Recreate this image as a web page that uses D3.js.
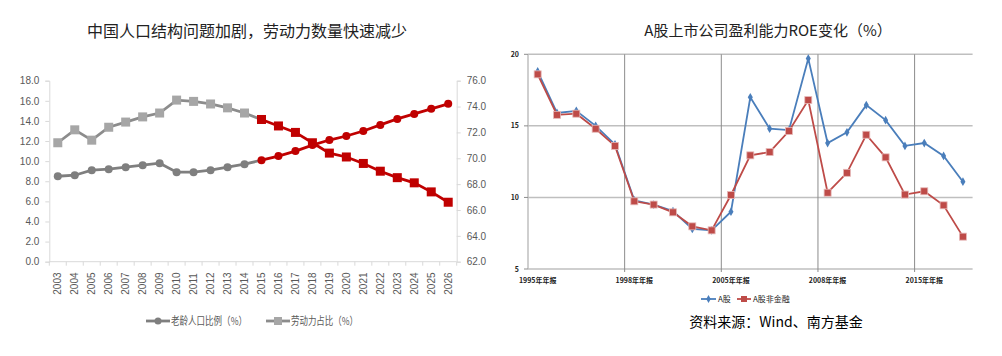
<!DOCTYPE html>
<html><head><meta charset="utf-8">
<script src="https://cdn.jsdelivr.net/npm/d3@7"></script>
<style>
html,body{margin:0;padding:0;background:#fff;}
svg{display:block;font-family:"Noto Sans CJK SC","Noto Sans",sans-serif;}
</style></head>
<body>
<svg id="c" width="1002" height="356"></svg>
<script>
// ---------- Left chart data ----------
const years = ["2003","2004","2005","2006","2007","2008","2009","2010","2011","2012","2013","2014","2015","2016","2017","2018","2019","2020","2021","2022","2023","2024","2025","2026"];
const elderlyRatio = [8.5,8.6,9.1,9.2,9.4,9.6,9.8,8.9,8.9,9.1,9.4,9.7,10.1,10.5,11.0,11.6,12.1,12.5,13.0,13.6,14.2,14.7,15.2,15.7];
const laborRatio = [71.2,72.2,71.4,72.4,72.8,73.2,73.5,74.5,74.4,74.2,73.9,73.5,73.0,72.5,72.0,71.2,70.4,70.1,69.6,69.0,68.5,68.1,67.4,66.6];
const forecastStart = "2015";
const leftTicks = [0,2,4,6,8,10,12,14,16,18];
const rightTicks = [62,64,66,68,70,72,74,76];
const leftLegend = ["老龄人口比例（%）","劳动力占比（%）"];
const leftTitle = "中国人口结构问题加剧，劳动力数量快速减少";

// ---------- Right chart data ----------
const roeAll = [18.8,15.9,16.05,15.0,13.7,9.8,9.5,9.05,7.8,7.7,9.0,17.0,14.8,14.7,19.7,13.8,14.55,16.45,15.4,13.6,13.8,12.9,11.1];
const roeNonFin = [18.6,15.77,15.85,14.8,13.6,9.73,9.5,8.96,7.98,7.7,10.17,12.94,13.17,14.64,16.8,10.33,11.72,14.38,12.8,10.2,10.43,9.45,7.26];
const roeTickLabels = ["1995年年报","1998年年报","2005年年报","2008年年报","2015年年报"];
const roeTickIndex = [0,5,10,15,20];
const roeYTicks = [5,10,15,20];
const roeLegend = ["A股","A股非金融"];
const rightTitle = "A股上市公司盈利能力ROE变化（%）";
const sourceText = "资料来源：Wind、南方基金";

const svg = d3.select("#c");

// ================= LEFT CHART =================
const L = svg.append("g");
const x1 = d3.scaleBand().domain(years).range([49.3, 456.7]);
const yL = d3.scaleLinear().domain([0,18]).range([261.7, 80.7]);
const yR = d3.scaleLinear().domain([62,76]).range([261.7, 80.7]);
const axisCol = "#d9d9d9", txtCol = "#595959";

L.append("text").attr("x", 247).attr("y", 37).attr("text-anchor","middle")
  .attr("font-size", 16).attr("fill","#222").text(leftTitle);

// left axis
const gl = L.append("g").attr("transform","translate(49.3,0)")
  .call(d3.axisLeft(yL).tickValues(leftTicks).tickFormat(d3.format(".1f")).tickSize(4).tickPadding(6));
gl.selectAll("path,line").attr("stroke", axisCol);
gl.selectAll("text").attr("fill", txtCol).attr("font-size", 10).attr("font-family","'Liberation Sans',Arial,sans-serif");
// right axis
const gr = L.append("g").attr("transform","translate(456.7,0)")
  .call(d3.axisRight(yR).tickValues(rightTicks).tickFormat(d3.format(".1f")).tickSize(4).tickPadding(6));
gr.selectAll("path,line").attr("stroke", axisCol);
gr.selectAll("text").attr("fill", txtCol).attr("font-size", 10).attr("font-family","'Liberation Sans',Arial,sans-serif");
// bottom axis
const gb = L.append("g").attr("transform","translate(0,261.7)");
gb.append("line").attr("x1",49.3).attr("x2",456.7).attr("stroke",axisCol);
gb.selectAll("line.t").data(years).join("line").attr("class","t")
  .attr("x1", d=>x1(d)).attr("x2", d=>x1(d)).attr("y1",0).attr("y2",4).attr("stroke",axisCol);
gb.append("line").attr("x1",456.7).attr("x2",456.7).attr("y1",0).attr("y2",4).attr("stroke",axisCol);
gb.selectAll("text").data(years).join("text")
  .attr("transform", d=>`translate(${x1(d)+x1.bandwidth()/2+3.5},${33}) rotate(-90)`)
  .attr("font-size",10).attr("fill",txtCol).attr("font-family","'Liberation Sans',Arial,sans-serif")
  .text(d=>d);

const fIdx = years.indexOf(forecastStart);
const cx = d => x1(d) + x1.bandwidth()/2;
function drawSeries(vals, ys, lineCol, markerCol, shape) {
  const pts = years.map((y,i)=>({y, v: vals[i], i}));
  const hist = pts.filter(p=>p.i<=fIdx);
  const fut = pts.filter(p=>p.i>=fIdx);
  const line = d3.line().x(p=>cx(p.y)).y(p=>ys(p.v));
  L.append("path").datum(hist).attr("d",line).attr("fill","none").attr("stroke",lineCol).attr("stroke-width",2.8);
  L.append("path").datum(fut).attr("d",line).attr("fill","none").attr("stroke","#c00000").attr("stroke-width",2.8);
  pts.forEach(p=>{
    const col = p.i>=fIdx ? "#c00000" : markerCol;
    if (shape==="circle") {
      L.append("circle").attr("cx",cx(p.y)).attr("cy",ys(p.v)).attr("r",4).attr("fill",col);
    } else {
      L.append("rect").attr("x",cx(p.y)-4.5).attr("y",ys(p.v)-4.5).attr("width",9).attr("height",9).attr("fill",col);
    }
  });
}
drawSeries(laborRatio, yR, "#8c8c8c", "#a6a6a6", "square");
drawSeries(elderlyRatio, yL, "#7f7f7f", "#7f7f7f", "circle");

// left legend
const lg = L.append("g").attr("font-size",11).attr("fill",txtCol);
lg.append("line").attr("x1",146).attr("x2",170).attr("y1",321).attr("y2",321).attr("stroke","#7f7f7f").attr("stroke-width",2.8);
lg.append("circle").attr("cx",158).attr("cy",321).attr("r",3.5).attr("fill","#7f7f7f");
lg.append("text").attr("x",171).attr("y",325).attr("fill",txtCol)
  .attr("textLength",76).attr("lengthAdjust","spacingAndGlyphs").text(leftLegend[0]);
lg.append("line").attr("x1",266).attr("x2",290).attr("y1",321).attr("y2",321).attr("stroke","#8c8c8c").attr("stroke-width",2.8);
lg.append("rect").attr("x",274).attr("y",317).attr("width",8).attr("height",8).attr("fill","#a6a6a6");
lg.append("text").attr("x",291).attr("y",325).attr("fill",txtCol)
  .attr("textLength",67).attr("lengthAdjust","spacingAndGlyphs").text(leftLegend[1]);

// ================= RIGHT CHART =================
const R = svg.append("g");
const idx = d3.range(roeAll.length);
const x2 = d3.scaleBand().domain(idx).range([528, 972.6]);
const y2 = d3.scaleLinear().domain([5,20]).range([269, 54.3]);
const c2 = i => x2(i) + x2.bandwidth()/2;

R.append("text").attr("x", 768).attr("y", 36).attr("text-anchor","middle")
  .attr("font-size", 15).attr("fill","#222").text(rightTitle);

// horizontal grid
R.selectAll("line.hg").data(roeYTicks).join("line").attr("class","hg")
  .attr("x1",528).attr("x2",972.6).attr("y1",d=>y2(d)).attr("y2",d=>y2(d))
  .attr("stroke","#bfbfbf").attr("stroke-width",1.5);
// vertical grid
R.selectAll("line.vg").data(roeTickIndex.slice(1)).join("line").attr("class","vg")
  .attr("x1",d=>x2(d)).attr("x2",d=>x2(d)).attr("y1",54.3).attr("y2",272)
  .attr("stroke","#8c8c8c").attr("stroke-width",1);
// left axis line
R.append("line").attr("x1",528).attr("x2",528).attr("y1",54.3).attr("y2",269).attr("stroke","#bfbfbf").attr("stroke-width",1.5);
R.selectAll("line.yt").data(roeYTicks).join("line").attr("class","yt")
  .attr("x1",524).attr("x2",528).attr("y1",d=>y2(d)).attr("y2",d=>y2(d)).attr("stroke","#8c8c8c");
R.selectAll("text.yl").data(roeYTicks).join("text").attr("class","yl")
  .attr("x",519).attr("y",d=>y2(d)+2.5).attr("text-anchor","end")
  .attr("font-size",7).attr("font-weight","bold").attr("fill","#222").text(d=>d);
R.selectAll("text.xl").data(roeTickIndex).join("text").attr("class","xl")
  .attr("x",d=>c2(d)).attr("y",283).attr("text-anchor","middle")
  .attr("font-size",7).attr("font-weight","bold").attr("fill","#222").text((d,i)=>roeTickLabels[i]);

const line2 = d3.line().x((v,i)=>c2(i)).y(v=>y2(v));
R.append("path").datum(roeAll).attr("d",line2).attr("fill","none").attr("stroke","#4a7ebb").attr("stroke-width",1.8);
R.selectAll("path.dm").data(roeAll).join("path").attr("class","dm")
  .attr("d", d3.symbol().type(d3.symbolDiamond).size(22))
  .attr("transform",(v,i)=>`translate(${c2(i)},${y2(v)})`).attr("fill","#4a7ebb");
R.append("path").datum(roeNonFin).attr("d",line2).attr("fill","none").attr("stroke","#be4b48").attr("stroke-width",1.8);
R.selectAll("rect.sq").data(roeNonFin).join("rect").attr("class","sq")
  .attr("x",(v,i)=>c2(i)-3.5).attr("y",v=>y2(v)-3.5).attr("width",7).attr("height",7)
  .attr("fill","#be4b48").attr("stroke","#e6b9b8").attr("stroke-width",0.8);

// right legend
const rg = R.append("g");
rg.append("line").attr("x1",701).attr("x2",716).attr("y1",299).attr("y2",299).attr("stroke","#4a7ebb").attr("stroke-width",1.8);
rg.append("path").attr("d",d3.symbol().type(d3.symbolDiamond).size(18)).attr("transform","translate(708.5,299)").attr("fill","#4a7ebb");
rg.append("text").attr("x",718).attr("y",302).attr("font-size",8).attr("fill","#222").text(roeLegend[0]);
rg.append("line").attr("x1",737).attr("x2",751).attr("y1",299).attr("y2",299).attr("stroke","#be4b48").attr("stroke-width",1.8);
rg.append("rect").attr("x",741).attr("y",296).attr("width",6).attr("height",6).attr("fill","#be4b48");
rg.append("text").attr("x",753).attr("y",302).attr("font-size",8).attr("fill","#222").text(roeLegend[1]);

R.append("text").attr("x",776).attr("y",327).attr("text-anchor","middle")
  .attr("font-size",14).attr("fill","#000").text(sourceText);
</script>
</body></html>
